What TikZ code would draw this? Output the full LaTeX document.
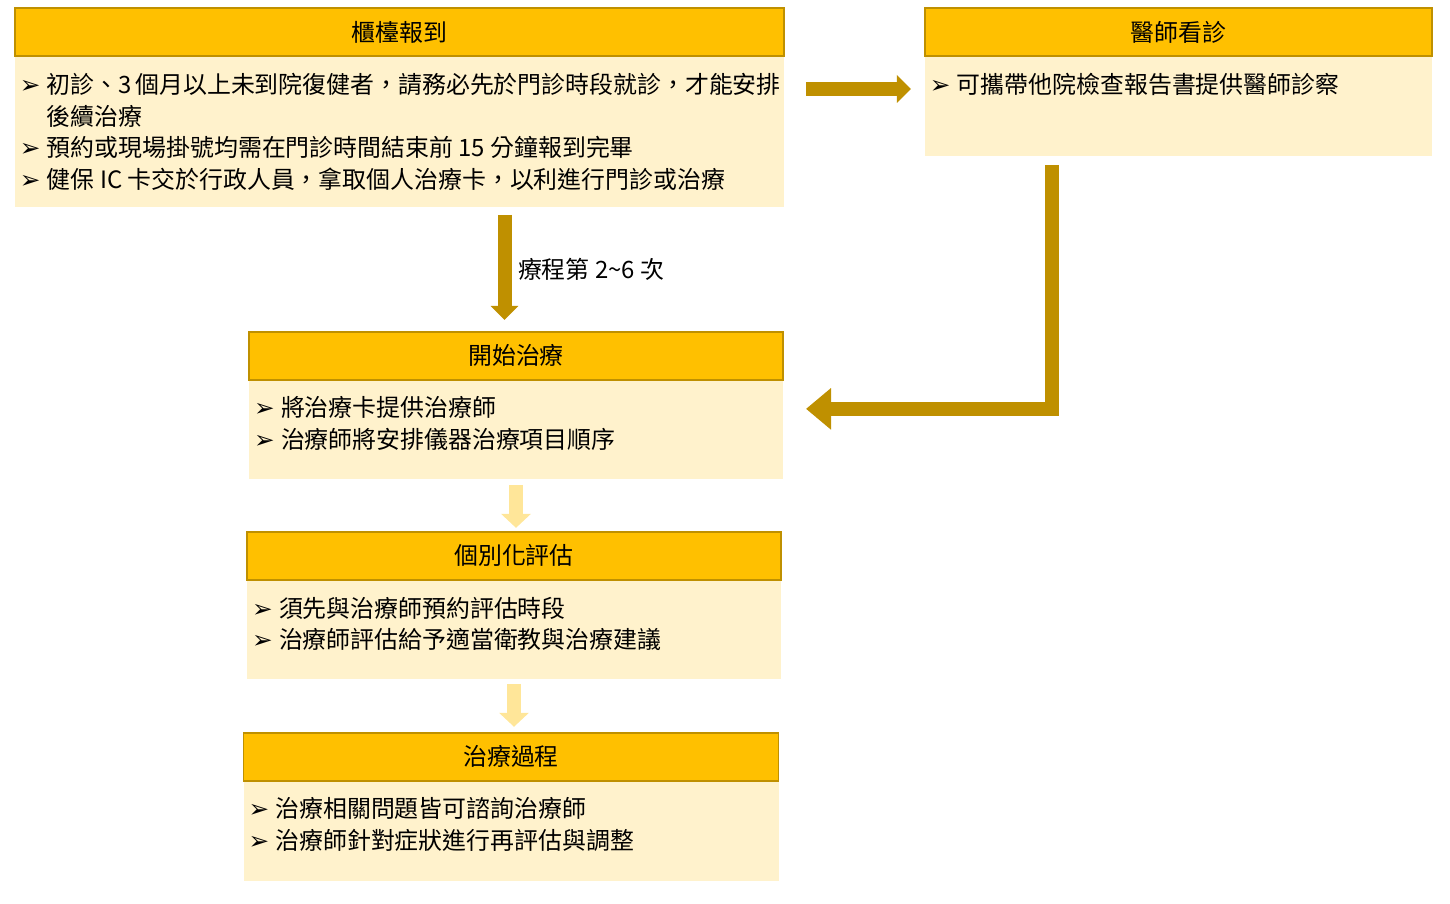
\documentclass[tikz,border=0pt]{standalone}
\usepackage{fontspec}
\setmainfont{Noto Sans CJK TC}
\newfontfamily\symfont{DejaVu Sans}
\usetikzlibrary{arrows.meta,positioning,calc}

\definecolor{headfill}{HTML}{FFC000}
\definecolor{headline}{HTML}{BF9000}
\definecolor{bodyfill}{HTML}{FFF2CC}
\definecolor{flowgold}{HTML}{BF9000}
\definecolor{flowlight}{HTML}{FFE699}

\newcommand{\bul}{\makebox[0.54cm][l]{\symfont\fontsize{14}{14}\selectfont ➢}}
\newcommand{\bline}[1]{\hbox to\linewidth{\bul#1\hfil}}
\newcommand{\wrapline}[1]{\hbox to\linewidth{\hspace*{0.54cm}#1\hfil}}
\newcommand{\bodytext}[3]{\parbox[t][#2][t]{#1}{\fontsize{13.6}{18.14}\selectfont#3}}

\begin{document}
\begin{tikzpicture}[
  font=\fontsize{13.6}{18.14}\selectfont,
  head/.style={draw=headline,line width=1.1pt,fill=headfill,minimum height=0.96cm},
  body/.style={fill=bodyfill,inner xsep=0.1cm,inner ysep=0.32cm,outer sep=0pt},
  goldarrow/.style={draw=flowgold,line width=0.28cm,-{Triangle[length=0.28cm,width=0.54cm]}},
  lightarrow/.style={draw=flowlight,line width=0.28cm,-{Triangle[length=0.28cm,width=0.58cm]}},
]
  \useasboundingbox (0,0) rectangle (29,-18.08);

  \node[head,minimum width=15.38cm,anchor=north west] (checkin) at (0.28,-0.14) {櫃檯報到};
  \node[body,below=0pt of checkin] (checkin-body) {\bodytext{15.18cm}{2.36cm}{%
    \bline{初診、3 個月以上未到院復健者，請務必先於門診時段就診，才能安排}%
    \wrapline{後續治療}%
    \bline{預約或現場掛號均需在門診時間結束前 15 分鐘報到完畢}%
    \bline{健保 IC 卡交於行政人員，拿取個人治療卡，以利進行門診或治療}}};

  \node[head,minimum width=10.14cm,right=2.78cm of checkin] (doctor) {醫師看診};
  \node[body,below=0pt of doctor] (doctor-body) {\bodytext{9.94cm}{1.34cm}{%
    \bline{可攜帶他院檢查報告書提供醫師診察}}};

  \node[head,minimum width=10.68cm,below=2.48cm of checkin-body.south east,anchor=north east] (start) {開始治療};
  \node[body,below=0pt of start] (start-body) {\bodytext{10.48cm}{1.32cm}{%
    \bline{將治療卡提供治療師}%
    \bline{治療師將安排儀器治療項目順序}}};

  \node[head,minimum width=10.68cm,below=1.04cm of start-body,xshift=-0.04cm] (assess) {個別化評估};
  \node[body,below=0pt of assess] (assess-body) {\bodytext{10.48cm}{1.32cm}{%
    \bline{須先與治療師預約評估時段}%
    \bline{治療師評估給予適當衛教與治療建議}}};

  \node[head,minimum width=10.70cm,below=1.06cm of assess-body,xshift=-0.06cm] (process) {治療過程};
  \node[body,below=0pt of process] (process-body) {\bodytext{10.50cm}{1.34cm}{%
    \bline{治療相關問題皆可諮詢治療師}%
    \bline{治療師針對症狀進行再評估與調整}}};

  % connectors
  \coordinate (sessions) at ([xshift=-0.23cm]start.north);
  \coordinate (docout) at ($(doctor-body.south west)!0.25!(doctor-body.south east)$);
  \coordinate (startin) at ([yshift=-0.56cm]start-body.north east);

  \draw[goldarrow,shorten <=0.44cm,shorten >=0.28cm] ([yshift=-0.64cm]checkin-body.north east) -- ([yshift=-0.64cm]checkin-body.north east -| doctor-body.west);
  \draw[goldarrow,shorten <=0.16cm,shorten >=0.22cm] (checkin-body.south -| sessions) -- (sessions)
    node[midway,right=0.13cm,inner sep=0pt] {療程第 2\textasciitilde 6 次};
  \draw[goldarrow,-{Triangle[length=0.5cm,width=0.8cm]},shorten <=0.18cm,shorten >=0.46cm] (docout) |- (startin);
  \draw[lightarrow,shorten <=0.12cm,shorten >=0.06cm] (start-body.south) -- (start-body.south |- assess.north);
  \draw[lightarrow,shorten <=0.1cm,shorten >=0.1cm] (assess-body.south) -- (assess-body.south |- process.north);
\end{tikzpicture}
\end{document}
